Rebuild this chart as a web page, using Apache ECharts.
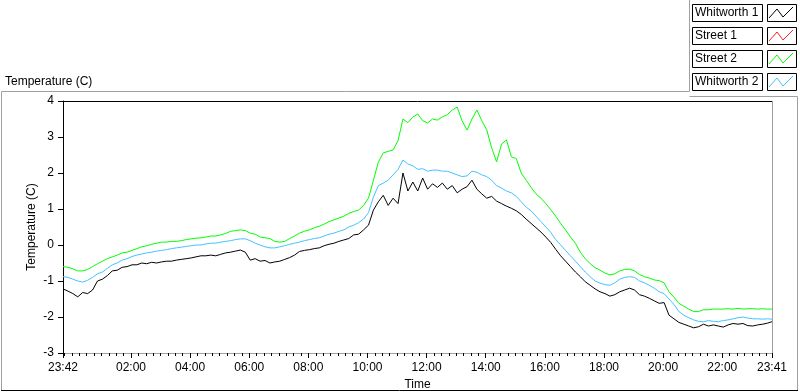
<!DOCTYPE html>
<html>
<head>
<meta charset="utf-8">
<script src="https://cdn.jsdelivr.net/npm/echarts@6/dist/echarts.min.js"></script>
<style>
  html, body { margin: 0; padding: 0; background: #fff; }
  #chart { width: 800px; height: 392px; }
</style>
</head>
<body>
<div id="chart"></div>
<script>
// minutes relative to 00:00, first sample is 23:42 of the day before
var startMin = -18, endMin = 1421;
var majorTicks = [-18, 120, 240, 360, 480, 600, 720, 840, 960, 1080, 1200, 1320, 1421];
var yTicks = [-3, -2, -1, 0, 1, 2, 3, 4];
var seriesNames = ['Whitworth 1', 'Street 1', 'Street 2', 'Whitworth 2'];
var seriesColors = ['#000000', '#ff2020', '#00ff00', '#44c2ff'];

// sampled every 10 min from 23:42, last one at 23:41
var whitworth1 = [
  -1.22, -1.28, -1.35, -1.44, -1.32, -1.35, -1.25, -1.0, -0.95, -0.85,
  -0.72, -0.7, -0.62, -0.6, -0.55, -0.55, -0.5, -0.52, -0.48, -0.5,
  -0.47, -0.45, -0.45, -0.42, -0.4, -0.38, -0.36, -0.33, -0.3, -0.3,
  -0.28, -0.3, -0.26, -0.22, -0.2, -0.17, -0.14, -0.2, -0.42, -0.38,
  -0.45, -0.43, -0.5, -0.47, -0.45, -0.4, -0.35, -0.28, -0.18, -0.15,
  -0.13, -0.1, -0.08, -0.02, 0.02, 0.05, 0.1, 0.14, 0.18, 0.28,
  0.3, 0.42, 0.55, 0.97, 1.2, 1.38, 1.1, 1.3, 1.15, 2.0,
  1.5, 1.75, 1.5, 1.86, 1.55, 1.7, 1.6, 1.72, 1.55, 1.65,
  1.45, 1.55, 1.62, 1.8, 1.55, 1.42, 1.3, 1.35, 1.22, 1.15,
  1.08, 1.02, 0.95, 0.85, 0.72, 0.6, 0.48, 0.36, 0.22, 0.07,
  -0.12, -0.3, -0.45, -0.6, -0.75, -0.88, -1.02, -1.12, -1.22, -1.3,
  -1.35, -1.42, -1.38, -1.3, -1.25, -1.2, -1.25, -1.38, -1.42, -1.48,
  -1.55, -1.62, -1.6, -1.95, -2.05, -2.15, -2.2, -2.25, -2.3, -2.27,
  -2.2, -2.25, -2.22, -2.25, -2.28, -2.22, -2.18, -2.2, -2.18, -2.24,
  -2.25, -2.22, -2.2, -2.17, -2.13
];
var street1 = [];
var street2 = [
  -0.6, -0.62, -0.66, -0.72, -0.72, -0.68, -0.6, -0.52, -0.45, -0.38,
  -0.33, -0.28, -0.22, -0.2, -0.15, -0.1, -0.05, -0.02, 0.02, 0.05,
  0.08, 0.08, 0.1, 0.1, 0.12, 0.15, 0.17, 0.19, 0.2, 0.22,
  0.25, 0.25, 0.28, 0.32, 0.38, 0.4, 0.42, 0.4, 0.33, 0.3,
  0.22, 0.2, 0.18, 0.1, 0.08, 0.1, 0.18, 0.25, 0.33, 0.38,
  0.42, 0.48, 0.52, 0.58, 0.65, 0.7, 0.75, 0.8, 0.88, 0.93,
  0.97, 1.1, 1.3, 1.8, 2.3, 2.56, 2.6, 2.64, 2.9, 3.5,
  3.4, 3.55, 3.64, 3.45, 3.39, 3.5, 3.47, 3.56, 3.62, 3.75,
  3.83, 3.45, 3.19, 3.5, 3.75, 3.45, 3.2, 2.7, 2.31, 2.8,
  2.92, 2.45, 2.4, 2.0, 1.8, 1.6, 1.42, 1.3, 1.15, 0.98,
  0.8, 0.6, 0.42, 0.22, 0.05, -0.2, -0.38, -0.52, -0.63, -0.7,
  -0.78, -0.83, -0.8, -0.72, -0.68, -0.67, -0.72, -0.82, -0.88, -0.92,
  -0.97, -0.99, -1.05, -1.3, -1.45, -1.62, -1.7, -1.78, -1.85, -1.85,
  -1.8, -1.8, -1.78, -1.78, -1.78, -1.77, -1.78, -1.76, -1.78, -1.77,
  -1.77, -1.78, -1.77, -1.78, -1.78
];
var whitworth2 = [
  -0.88, -0.9, -0.95, -1.0, -1.03, -0.98, -0.9, -0.8, -0.75, -0.65,
  -0.55, -0.5, -0.42, -0.38, -0.32, -0.28, -0.25, -0.22, -0.2, -0.17,
  -0.15, -0.13, -0.1, -0.08, -0.06, -0.04, -0.02, 0.0, 0.0, 0.03,
  0.05, 0.05, 0.08, 0.1, 0.12, 0.15, 0.17, 0.17, 0.12, 0.05,
  0.0, -0.05, -0.08, -0.08, -0.05, -0.02, 0.02, 0.05, 0.08, 0.12,
  0.15, 0.18, 0.2, 0.25, 0.3, 0.33, 0.38, 0.42, 0.5, 0.55,
  0.62, 0.72, 0.9, 1.33, 1.65, 1.72, 1.8, 1.95, 2.1, 2.36,
  2.25, 2.2, 2.1, 2.12, 2.05, 2.08, 2.08, 2.05, 2.05, 2.0,
  1.95, 1.9, 1.92, 2.05, 2.02, 1.95, 1.9, 1.8, 1.65, 1.58,
  1.5, 1.45, 1.35, 1.2, 1.05, 0.95, 0.8, 0.65, 0.5, 0.35,
  0.15, 0.0, -0.15, -0.3, -0.45, -0.6, -0.75, -0.88, -1.0, -1.06,
  -1.1, -1.12, -1.05, -0.95, -0.9, -0.88, -0.9, -1.0, -1.05, -1.12,
  -1.2, -1.3, -1.35, -1.5, -1.65, -1.85, -1.95, -2.02, -2.08, -2.12,
  -2.13, -2.1, -2.12, -2.13, -2.1, -2.08, -2.05, -2.02, -2.0, -2.03,
  -2.05, -2.05, -2.06, -2.05, -2.06
];

var times = [];
for (var t = startMin; t < endMin - 5; t += 10) times.push(t);
times.push(endMin);

function pairs(vals) {
  var out = [];
  for (var i = 0; i < vals.length; i++) out.push([times[i], vals[i]]);
  return out;
}

function fmtTime(m) {
  m = (m + 1440) % 1440;
  var h = Math.floor(m / 60), mm = m % 60;
  return (h < 10 ? '0' : '') + h + ':' + (mm < 10 ? '0' : '') + mm;
}

var minorTicks = [];
for (var q = -15; q <= 1410; q += 15) {
  if (majorTicks.indexOf(q) < 0) minorTicks.push(q);
}

var FONT = 'Liberation Sans';
var chart = echarts.init(document.getElementById('chart'));

// legend boxes drawn like the LabVIEW plot legend
var legendGraphics = [];
seriesNames.forEach(function (name, i) {
  var y0 = 4 + 23 * i;
  legendGraphics.push({
    type: 'rect', shape: { x: 692.5, y: y0 + 0.5, width: 70, height: 17 },
    style: { fill: '#fff', stroke: '#000', lineWidth: 1 }
  });
  legendGraphics.push({
    type: 'text', x: 695, y: y0 + 9,
    style: { text: name, fill: '#000', font: '12px ' + FONT, verticalAlign: 'middle' }
  });
  legendGraphics.push({
    type: 'rect', shape: { x: 767.5, y: y0 + 0.5, width: 29, height: 17 },
    style: { fill: '#fff', stroke: '#000', lineWidth: 1 }
  });
  legendGraphics.push({
    type: 'polyline',
    shape: { points: [[769, y0 + 14], [777, y0 + 5], [783, y0 + 13], [793, y0 + 3]] },
    style: { stroke: seriesColors[i], lineWidth: 1, fill: null }
  });
});

var option = {
  animation: false,
  backgroundColor: '#fff',
  grid: { left: 63, top: 101, right: 28, bottom: 39, show: false, containLabel: false, outerBoundsMode: 'none' },
  xAxis: [{
    type: 'value',
    min: startMin,
    max: endMin,
    name: 'Time',
    nameLocation: 'middle',
    nameGap: 26,
    nameMoveOverlap: false,
    nameTextStyle: { color: '#000', fontFamily: FONT, fontSize: 12 },
    axisLine: { show: true, onZero: false, lineStyle: { color: '#a0a0a0', width: 1 } },
    axisTick: { show: true, length: 5, customValues: majorTicks, lineStyle: { color: '#000' } },
    axisLabel: {
      customValues: majorTicks, margin: 9, color: '#000', fontFamily: FONT, fontSize: 12,
      formatter: function (v) { return fmtTime(v); }
    },
    splitLine: { show: false }
  }, {
    type: 'value',
    min: startMin,
    max: endMin,
    gridIndex: 0,
    position: 'bottom',
    axisLine: { show: false, onZero: false },
    axisTick: { show: true, length: 3, customValues: minorTicks, lineStyle: { color: '#000' } },
    axisLabel: { show: false },
    splitLine: { show: false }
  }],
  yAxis: {
    type: 'value',
    min: -3,
    max: 4,
    interval: 1,
    name: 'Temperature (C)',
    nameLocation: 'middle',
    nameGap: 25,
    nameMoveOverlap: false,
    nameTextStyle: { color: '#000', fontFamily: FONT, fontSize: 12 },
    axisLine: { show: true, onZero: false, lineStyle: { color: '#000', width: 1 } },
    axisTick: { show: true, length: 5, lineStyle: { color: '#000' } },
    axisLabel: { margin: 9, color: '#000', fontFamily: FONT, fontSize: 12 },
    splitLine: { show: false }
  },
  series: [
    { name: seriesNames[0], data: pairs(whitworth1) },
    { name: seriesNames[1], data: pairs(street1) },
    { name: seriesNames[2], data: pairs(street2) },
    { name: seriesNames[3], data: pairs(whitworth2) }
  ].map(function (s, i) {
    return {
      name: s.name, type: 'line', data: s.data, symbol: 'none',
      lineStyle: { color: seriesColors[i], width: 1 }, itemStyle: { color: seriesColors[i] }
    };
  }),
  graphic: [
    { type: 'text', x: 5, y: 82, style: { text: 'Temperature (C)', fill: '#000', font: '12px ' + FONT, verticalAlign: 'middle' } },
    // outer frame
    { type: 'polyline', shape: { points: [[1.5, 390], [1.5, 91.5], [689.5, 91.5], [689.5, 0]] }, style: { stroke: '#a0a0a0', lineWidth: 1, fill: null } },
    { type: 'polyline', shape: { points: [[689.5, 96.5], [797.5, 96.5], [797.5, 390]] }, style: { stroke: '#a0a0a0', lineWidth: 1, fill: null } },
    { type: 'line', shape: { x1: 1, y1: 390.5, x2: 798, y2: 390.5 }, style: { stroke: '#000', lineWidth: 1 } },
    // plot frame: black top, grey right
    { type: 'line', shape: { x1: 63, y1: 101.5, x2: 772, y2: 101.5 }, style: { stroke: '#000', lineWidth: 1 } },
    { type: 'line', shape: { x1: 772.5, y1: 101, x2: 772.5, y2: 353 }, style: { stroke: '#a0a0a0', lineWidth: 1 } }
  ].concat(legendGraphics)
};

chart.setOption(option);
</script>
</body>
</html>
